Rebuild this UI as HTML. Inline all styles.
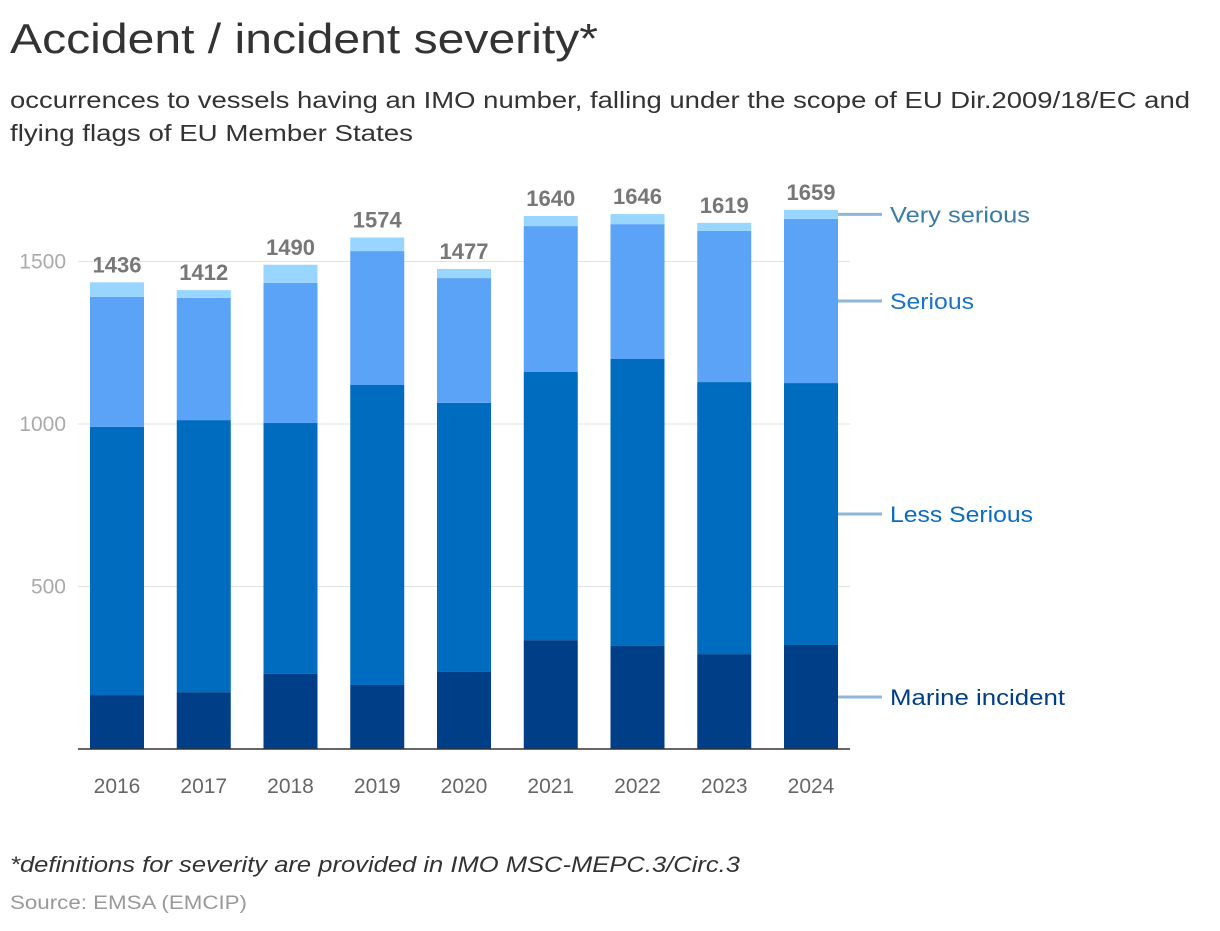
<!DOCTYPE html>
<html><head><meta charset="utf-8"><style>
body{margin:0;background:#fff;font-family:"Liberation Sans",sans-serif;}
svg text{font-family:"Liberation Sans",sans-serif;}
</style></head><body>
<svg width="1220" height="926">
<text x="10" y="53" font-size="42" fill="#333" textLength="588" lengthAdjust="spacingAndGlyphs">Accident / incident severity*</text>
<text x="10" y="108" font-size="23" fill="#333" textLength="1180" lengthAdjust="spacingAndGlyphs">occurrences to vessels having an IMO number, falling under the scope of EU Dir.2009/18/EC and</text>
<text x="10" y="141" font-size="23" fill="#333" textLength="403" lengthAdjust="spacingAndGlyphs">flying flags of EU Member States</text>
<g id="grid"></g><g id="bars"></g><g id="labels"></g><g id="legend"></g>
<line x1="78" x2="850" y1="749" y2="749" stroke="#333" stroke-width="1.5"/>
<text x="10" y="872" font-size="22" font-style="italic" fill="#333" textLength="730" lengthAdjust="spacingAndGlyphs">*definitions for severity are provided in IMO MSC-MEPC.3/Circ.3</text>
<text x="10" y="909" font-size="19" fill="#999" textLength="237" lengthAdjust="spacingAndGlyphs">Source: EMSA (EMCIP)</text>
</svg>
<script>
const years=["2016","2017","2018","2019","2020","2021","2022","2023","2024"];
const marine=[166,175,231,197,237,335,317,292,320];
const lessSerious=[825,837,772,923,828,825,883,837,806];
const serious=[400,376,431,412,384,449,415,465,505];
const verySerious=[45,24,56,42,28,31,31,25,28];
const yTicks=[500,1000,1500];
const NS="http://www.w3.org/2000/svg";
const y=v=>749-v*0.325;
const x=i=>117+i*86.75;
function mk(t,a,p){const e=document.createElementNS(NS,t);for(const k in a)e.setAttribute(k,a[k]);document.getElementById(p).appendChild(e);return e;}
yTicks.forEach(t=>{
 const l=mk("line",{x1:78,x2:850,y1:y(t),y2:y(t),stroke:"#e2e2e2"},"grid");
 
 
 const tx=mk("text",{x:66,y:y(t)+7,"text-anchor":"end","font-size":21,fill:"#aaa"},"grid");tx.textContent=t;
 
 
});
const series=[[marine,"#003f87"],[lessSerious,"#006cc0"],[serious,"#5ba3f7"],[verySerious,"#99d6ff"]];
years.forEach((yr,i)=>{
 let c=0;
 series.forEach(([s,col])=>{
  const r=mk("rect",{x:x(i)-27,width:54,y:y(c+s[i]),height:y(c)-y(c+s[i]),fill:col},"bars");
  
  
  c+=s[i];
 });
 const tl=mk("text",{x:x(i),y:y(c)-10,"text-anchor":"middle","font-size":22,"font-weight":"bold",fill:"#777"},"labels");tl.textContent=c;
 
 
 const xl=mk("text",{x:x(i),y:793,"text-anchor":"middle","font-size":21,fill:"#666"},"labels");xl.textContent=yr;
 
 
});
const names=["Marine incident","Less Serious","Serious","Very serious"];
const widths=[175,143,84,140];
const lcol=["#003f87","#0a6cc0","#1a73c8","#3a7ca5"];
const last=years.length-1;let c=0;
series.forEach(([s],k)=>{
 const m=y(c+s[last]/2);c+=s[last];
 const ln=mk("line",{x1:838,x2:882,y1:m,y2:m,stroke:"#8fb6d9","stroke-width":3},"legend");
 
 
 const t=mk("text",{x:890,y:m+8,"font-size":22,fill:lcol[k],textLength:widths[k],lengthAdjust:"spacingAndGlyphs"},"legend");t.textContent=names[k];
 
 
});
</script>
</body></html>
